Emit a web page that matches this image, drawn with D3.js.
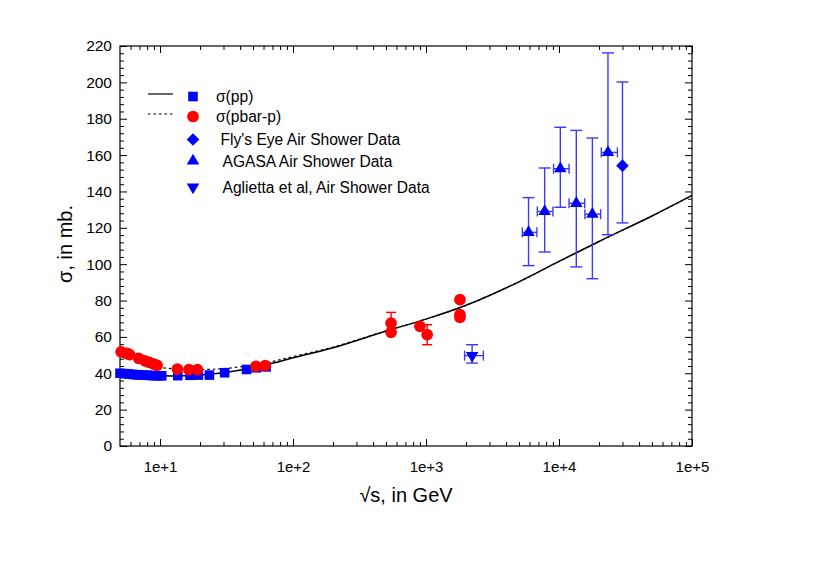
<!DOCTYPE html>
<html>
  <head>
    <title>Cross sections</title>
    <script src="https://d3js.org/d3.v7.min.js"></script>
    <style>
      body { margin: 0; background: #fff; }
      text { font-family: "Liberation Sans", Arial, sans-serif; fill: #000; }
      .axis path { display: none; }
      .axis line { stroke: #000; stroke-width: 1; }
      .axis text { font-size: 15.5px; }
      .axis.xlab text { font-size: 15px; }
      .title { font-size: 20px; }
      .legend text { font-size: 15.6px; }
    </style>
  </head>
  <body>
    <svg width="830" height="582"></svg>

    <script>
      // fitted curves
      const fitE    = [5, 7, 10, 15, 20, 30, 50, 70, 100, 200, 500, 1000, 2000, 5000, 1e4, 2e4, 5e4, 1e5];
      const fitPP   = [39.6, 38.9, 38.6, 38.6, 39.0, 40.3, 43.0, 45.5, 48.5, 54.0, 63.2, 69.8, 77.4, 90.3, 101.5, 112.5, 126.5, 137.8];
      const fitPbarE = [8, 10, 15, 20, 30, 50, 70, 100, 200, 500, 1000, 2000, 5000, 1e4, 2e4, 5e4, 1e5];
      const fitPbar  = [44.5, 43.2, 42.2, 42.0, 42.6, 44.5, 46.5, 49.2, 54.4, 63.3, 69.8, 77.4, 90.3, 101.5, 112.5, 126.5, 137.8];

      // sigma(pp) accelerator data
      const ppE   = [5.0, 5.4, 5.8, 6.2, 6.6, 7.0, 7.5, 8.0, 8.5, 9.0, 9.6, 10.3, 13.6, 16.8, 19.4, 23.5, 30.6, 44.7, 52.8, 62.7];
      const ppSig = [40.0, 39.8, 39.6, 39.4, 39.2, 39.1, 39.0, 38.9, 38.8, 38.7, 38.6, 38.6, 38.7, 38.9, 39.0, 39.0, 40.3, 42.1, 43.0, 43.5];

      // sigma(pbar-p) accelerator data
      const pbarE   = [5.1, 5.6, 5.9, 6.9, 7.7, 8.3, 9.0, 9.5, 13.5, 16.5, 19.1, 52.6, 61.8, 546, 546, 900, 1020, 1800, 1800, 1800];
      const pbarSig = [51.8, 51.0, 50.2, 48.2, 46.8, 46.0, 45.0, 44.4, 42.3, 42.0, 42.0, 43.8, 44.2, 67.6, 62.5, 65.8, 61.2, 80.5, 72.2, 70.7];
      const pbarErr = [0, 2.2, 0, 0, 0, 0, 0, 0, 0, 0, 0, 0, 0, 5.9, 0, 0, 5.5, 0, 0, 0];

      // AGASA air shower data
      const agasaE    = [5900, 7800, 10230, 13490, 17820, 23340];
      const agasaElo  = [5300, 6870, 9100, 11900, 15660, 20800];
      const agasaEhi  = [6820, 9000, 11900, 15600, 20560, 27500];
      const agasaSig  = [117.5, 129, 152.5, 133.5, 127.5, 161.5];
      const agasaLo   = [99.2, 106.7, 131.3, 98.5, 92, 116.2];
      const agasaHi   = [136.6, 152.9, 175.3, 173.6, 169.4, 216.2];

      // Fly's Eye
      const flyE = [30000], flySig = [154.2], flyLo = [122.7], flyHi = [200.2];

      // Aglietta et al
      const aglE = [2220], aglElo = [1950], aglEhi = [2700], aglSig = [49.7], aglLo = [45.6], aglHi = [55.7];

      const xMajor = [10, 100, 1000, 1e4, 1e5];
      const yMajor = d3.range(0, 221, 20);

      const legendItems = [
        { label: "\u03c3(pp)", line: "solid", sym: "square", color: "#0000ff", tx: 216 },
        { label: "\u03c3(pbar-p)", line: "dash", sym: "circle", color: "#ff0000", tx: 216 },
        { label: "Fly's Eye Air Shower Data", sym: "diamond", color: "#0000ff", tx: 220.5 },
        { label: "AGASA Air Shower Data", sym: "triangle", color: "#0000ff", tx: 222.5 },
        { label: "Aglietta et al, Air Shower Data", sym: "down", color: "#0000ff", tx: 222.5 }
      ];

      function main(){
        const svg = d3.select("svg");
        const L = 120, R = 692, T = 46, B = 446;

        const x = d3.scaleLog().domain([5, 1e5]).range([L, R]);
        const y = d3.scaleLinear().domain([0, 220]).range([B, T]);

        const xMinor = [];
        [1, 10, 100, 1000, 1e4].forEach(d => d3.range(2, 10).forEach(k => {
          const v = d * k;
          if (v > 5 && v < 1e5) xMinor.push(v);
        }));
        const yMinor = d3.range(0, 221, 4).filter(v => v % 20 !== 0);
        const fmt = d => "1e+" + Math.round(Math.log10(d));

        // axes, ticks pointing inward on all four sides
        svg.append("g").attr("class", "axis xlab").attr("transform", `translate(0,${B})`)
          .call(d3.axisBottom(x).tickValues(xMajor).tickFormat(fmt).tickSize(-7).tickPadding(15));
        svg.append("g").attr("class", "axis").attr("transform", `translate(0,${B})`)
          .call(d3.axisBottom(x).tickValues(xMinor).tickFormat("").tickSize(-4));
        svg.append("g").attr("class", "axis").attr("transform", `translate(0,${T})`)
          .call(d3.axisTop(x).tickValues(xMajor).tickFormat("").tickSize(-7));
        svg.append("g").attr("class", "axis").attr("transform", `translate(0,${T})`)
          .call(d3.axisTop(x).tickValues(xMinor).tickFormat("").tickSize(-4));
        svg.append("g").attr("class", "axis").attr("transform", `translate(${L},0)`)
          .call(d3.axisLeft(y).tickValues(yMajor).tickSize(-7).tickPadding(8));
        svg.append("g").attr("class", "axis").attr("transform", `translate(${L},0)`)
          .call(d3.axisLeft(y).tickValues(yMinor).tickFormat("").tickSize(-4));
        svg.append("g").attr("class", "axis").attr("transform", `translate(${R},0)`)
          .call(d3.axisRight(y).tickValues(yMajor).tickFormat("").tickSize(-7));
        svg.append("g").attr("class", "axis").attr("transform", `translate(${R},0)`)
          .call(d3.axisRight(y).tickValues(yMinor).tickFormat("").tickSize(-4));

        svg.append("rect")
          .attr("x", L).attr("y", T).attr("width", R - L).attr("height", B - T)
          .attr("fill", "none").attr("stroke", "#000").attr("stroke-width", 1.2);

        // titles
        svg.append("text").attr("class", "title")
          .attr("transform", "translate(72,244) rotate(-90)")
          .attr("text-anchor", "middle").text("\u03c3, in mb.");
        svg.append("text").attr("class", "title")
          .attr("x", 406).attr("y", 502)
          .attr("text-anchor", "middle").text("\u221as, in GeV");

        // fitted curves
        const line = d3.line().x(d => x(d[0])).y(d => y(d[1])).curve(d3.curveCatmullRom.alpha(0.5));
        svg.append("path").datum(fitPbarE.map((e, i) => [e, fitPbar[i]]))
          .attr("d", line).attr("fill", "none").attr("stroke", "#000")
          .attr("stroke-width", 1.2).attr("stroke-dasharray", "2.5,3");
        svg.append("path").datum(fitE.map((e, i) => [e, fitPP[i]]))
          .attr("d", line).attr("fill", "none").attr("stroke", "#000").attr("stroke-width", 1.5);

        const symbols = {
          square: d3.symbol(d3.symbolSquare, 92),
          circle: d3.symbol(d3.symbolCircle, 108),
          diamond: d3.symbol(d3.symbolSquare, 80),
          triangle: d3.symbol(d3.symbolTriangle, 68),
          down: d3.symbol(d3.symbolTriangle, 68)
        };
        const rot = { diamond: 45, down: 180 };
        function marker(g, sym, px, py, color){
          g.append("path").attr("d", symbols[sym]())
            .attr("transform", `translate(${px},${py}) rotate(${rot[sym] || 0})`)
            .attr("fill", color);
        }
        function vbar(g, px, y0, y1, color, cap){
          g.append("line").attr("x1", px).attr("x2", px).attr("y1", y0).attr("y2", y1)
            .attr("stroke", color).attr("stroke-width", 1.4);
          [y0, y1].forEach(v => g.append("line")
            .attr("x1", px - cap).attr("x2", px + cap).attr("y1", v).attr("y2", v)
            .attr("stroke", color).attr("stroke-width", 1.4));
        }
        function hbar(g, py, x0, x1, color, cap){
          g.append("line").attr("x1", x0).attr("x2", x1).attr("y1", py).attr("y2", py)
            .attr("stroke", color).attr("stroke-width", 1.4);
          [x0, x1].forEach(v => g.append("line")
            .attr("x1", v).attr("x2", v).attr("y1", py - cap).attr("y2", py + cap)
            .attr("stroke", color).attr("stroke-width", 1.4));
        }

        const errBlue = "#3a3aff";
        const gErr = svg.append("g");
        const gMk = svg.append("g");

        // pp points
        ppE.forEach((e, i) => marker(gMk, "square", x(e), y(ppSig[i]), "#0000ff"));

        // pbar-p points with error bars
        pbarE.forEach((e, i) => {
          if (pbarErr[i] > 0) vbar(gErr, x(e), y(pbarSig[i] + pbarErr[i]), y(pbarSig[i] - pbarErr[i]), "#ff0000", 5);
          marker(gMk, "circle", x(e), y(pbarSig[i]), "#ff0000");
        });

        // AGASA
        agasaE.forEach((e, i) => {
          vbar(gErr, x(e), y(agasaHi[i]), y(agasaLo[i]), errBlue, 6);
          hbar(gErr, y(agasaSig[i]), x(agasaElo[i]), x(agasaEhi[i]), errBlue, 5);
          marker(gMk, "triangle", x(e), y(agasaSig[i]), "#0000ff");
        });

        // Fly's Eye
        flyE.forEach((e, i) => {
          vbar(gErr, x(e), y(flyHi[i]), y(flyLo[i]), errBlue, 6);
          marker(gMk, "diamond", x(e), y(flySig[i]), "#0000ff");
        });

        // Aglietta
        aglE.forEach((e, i) => {
          vbar(gErr, x(e), y(aglHi[i]), y(aglLo[i]), errBlue, 6);
          hbar(gErr, y(aglSig[i]), x(aglElo[i]), x(aglEhi[i]), errBlue, 5);
          marker(gMk, "down", x(e), y(aglSig[i]), "#0000ff");
        });

        // legend
        const lg = svg.append("g").attr("class", "legend");
        const rowY = [96.5, 116.5, 139.5, 161, 187];
        legendItems.forEach((d, i) => {
          const cy = rowY[i];
          if (d.line) {
            lg.append("line").attr("x1", 148).attr("x2", 173).attr("y1", cy - 2.5).attr("y2", cy - 2.5)
              .attr("stroke", "#000").attr("stroke-width", 1.2)
              .attr("stroke-dasharray", d.line === "dash" ? "2.5,3" : null);
          }
          marker(lg, d.sym, 193, cy, d.color);
          lg.append("text").attr("x", d.tx).attr("y", cy + 5.5).text(d.label);
        });
      }
      main();
    </script>
  </body>
</html>
